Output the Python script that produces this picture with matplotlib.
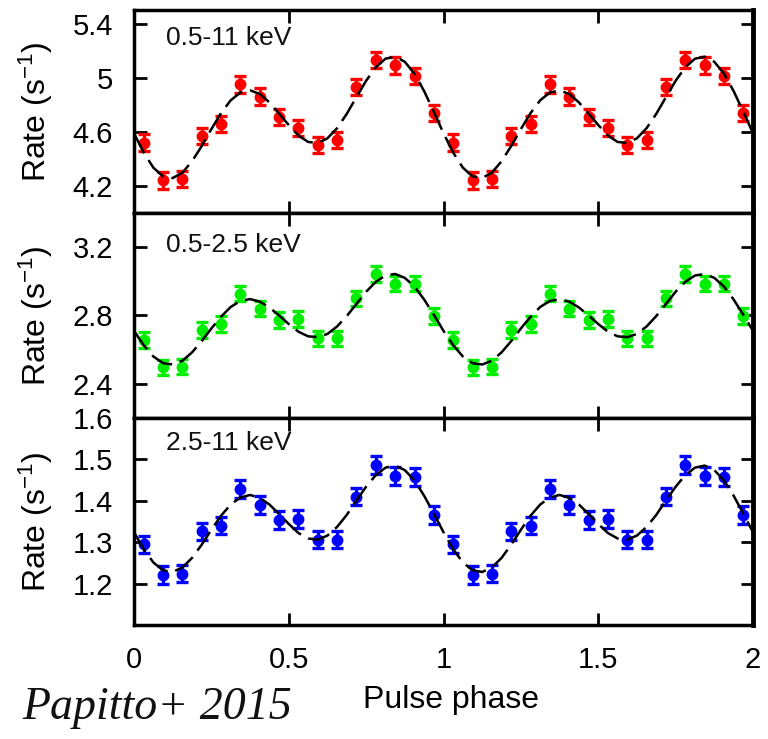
import numpy as np
import matplotlib.pyplot as plt

plt.rcParams['font.family'] = ['Liberation Sans', 'DejaVu Sans']
plt.rcParams['mathtext.default'] = 'regular'

# 16 phase bins, folded profile (shown twice, as usual)
phase = (np.arange(16) + 0.5) / 16

rate_full = [4.52, 4.24, 4.25, 4.57, 4.66, 4.95, 4.86, 4.71,
             4.63, 4.50, 4.54, 4.93, 5.13, 5.09, 5.01, 4.74]
rate_soft = [2.657, 2.497, 2.50, 2.715, 2.75, 2.928, 2.84, 2.773,
             2.779, 2.667, 2.667, 2.90, 3.043, 2.986, 2.986, 2.798]
rate_hard = [1.295, 1.221, 1.224, 1.326, 1.34, 1.428, 1.39, 1.354,
             1.356, 1.306, 1.306, 1.41, 1.486, 1.46, 1.457, 1.366]
err_full = 0.06
err_soft = 0.045
err_hard = 0.021

# model curve read at phase steps of 1/32 over one cycle
model_phase = np.arange(32) / 32
model_full = [4.589, 4.446, 4.335, 4.270, 4.258, 4.298, 4.382, 4.495,
              4.620, 4.738, 4.833, 4.890, 4.906, 4.879, 4.817, 4.734,
              4.650, 4.572, 4.525, 4.517, 4.552, 4.627, 4.733, 4.856,
              4.977, 5.077, 5.140, 5.155, 5.117, 5.029, 4.900, 4.747]
model_soft = [2.710, 2.626, 2.560, 2.521, 2.513, 2.535, 2.584, 2.650,
              2.724, 2.793, 2.850, 2.885, 2.896, 2.881, 2.847, 2.800,
              2.750, 2.705, 2.678, 2.673, 2.692, 2.736, 2.797, 2.868,
              2.939, 2.997, 3.034, 3.043, 3.020, 2.969, 2.893, 2.804]
model_hard = [1.324, 1.283, 1.251, 1.232, 1.228, 1.239, 1.262, 1.294,
              1.330, 1.364, 1.391, 1.408, 1.414, 1.407, 1.391, 1.368,
              1.344, 1.322, 1.309, 1.306, 1.316, 1.337, 1.366, 1.401,
              1.434, 1.462, 1.480, 1.485, 1.474, 1.449, 1.412, 1.369]

bands = ['0.5-11 keV', '0.5-2.5 keV', '2.5-11 keV']
colors = ['#ff0000', '#00ee00', '#0000ff']
ylims = [(4.0, 5.5), (2.2, 3.4), (1.1, 1.6)]
yticks = [[4.2, 4.6, 5.0, 5.4], [2.4, 2.8, 3.2], [1.2, 1.3, 1.4, 1.5, 1.6]]
ytick_labels = [['4.2', '4.6', '5', '5.4'], ['2.4', '2.8', '3.2'],
                ['1.2', '1.3', '1.4', '1.5', '1.6']]
xticks = [0, 0.5, 1, 1.5, 2]
xtick_labels = ['0', '0.5', '1', '1.5', '2']
label_y = [0.862, 0.844, 0.879]

fig = plt.figure(figsize=(7.68, 7.39), dpi=100)
boxes = [[0.1745, 0.7118, 0.806, 0.2747],
         [0.1745, 0.4344, 0.806, 0.2774],
         [0.1745, 0.1543, 0.806, 0.2801]]

series = [(rate_full, err_full, model_full),
          (rate_soft, err_soft, model_soft),
          (rate_hard, err_hard, model_hard)]

x2 = np.concatenate([phase, phase + 1])
mx2 = np.concatenate([model_phase, model_phase + 1, [2.0]])

for i, (rate, err, model) in enumerate(series):
    ax = fig.add_axes(boxes[i])
    y2 = np.tile(rate, 2)
    m2 = np.append(np.tile(model, 2), model[0])
    ax.errorbar(x2, y2, yerr=err, fmt='o', color=colors[i], ms=7.5,
                elinewidth=2.4, capsize=4.2, capthick=2.4, zorder=2)
    ln, = ax.plot(mx2, m2, color='black', lw=1.8, zorder=3)
    ln.set_dashes((9, 3.2))

    ax.set_xlim(0, 2)
    ax.set_ylim(*ylims[i])
    ax.set_yticks(yticks[i])
    ax.set_yticklabels(ytick_labels[i])
    ax.set_xticks(xticks)
    if i == 2:
        ax.set_xticklabels(xtick_labels)
        ax.set_xlabel('Pulse phase', fontsize=23)
        ax.xaxis.set_label_coords(0.512, -0.29)
    else:
        ax.set_xticklabels([])
    ax.tick_params(direction='in', length=9, width=2, labelsize=21,
                   top=True, right=True, pad=15)
    for sp in ax.spines.values():
        sp.set_linewidth(2.5)
    ax.spines['right'].set_linewidth(3.5)
    ax.set_ylabel('Rate (s$^{-1}$)', fontsize=23)
    ax.yaxis.set_label_coords(-0.128, 0.5)
    ax.text(0.052, label_y[i], bands[i], transform=ax.transAxes,
            fontsize=19, va='center', ha='left', color='#111111')

fig.text(0.029, 1 - 719 / 739, 'Papitto+ 2015', family=['Liberation Serif', 'DejaVu Serif'],
         style='italic', fontsize=33, va='baseline', ha='left', color='#111111')

fig.savefig('out.png', dpi=100)
